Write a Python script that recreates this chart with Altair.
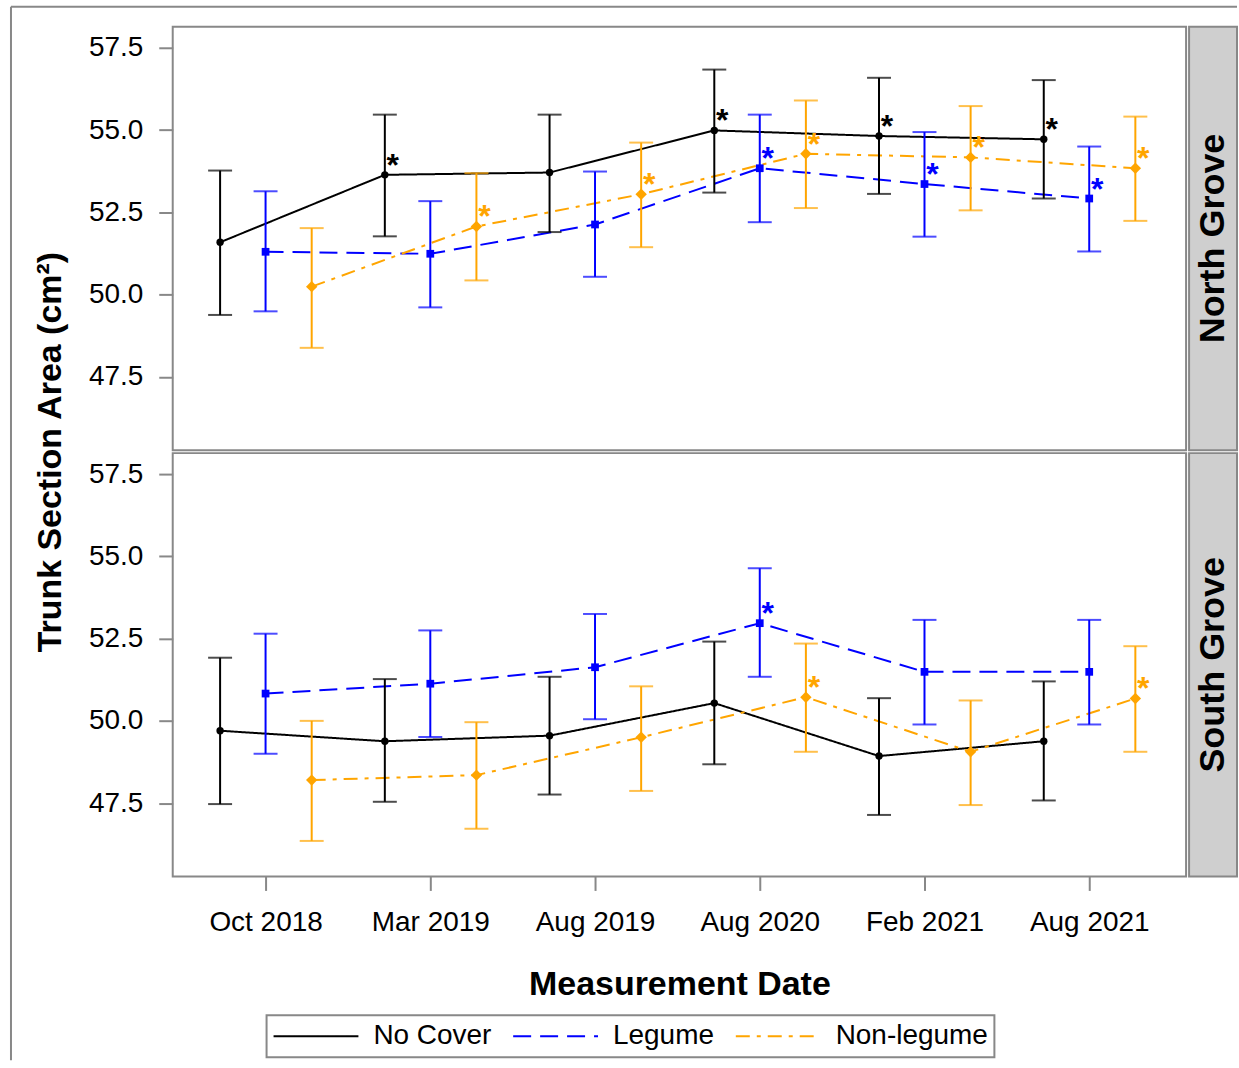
import altair as alt
import pandas as pd

dates = ["Oct 2018", "Mar 2019", "Aug 2019", "Aug 2020", "Feb 2021", "Aug 2021"]
series = ["No Cover", "Legume", "Non-legume"]
colors = ["#000000", "#0000FF", "#FFA500"]
dashes = [[1, 0], [18, 9], [14, 7, 4, 7]]
shapes = ["circle", "square", "diamond"]
marker_sizes = [55, 60, 130]
dodge = [-0.276, 0.0, 0.28]
groves = ["North Grove", "South Grove"]

# North Grove
north_nc_mean = [51.59, 53.64, 53.71, 54.99, 54.82, 54.72]
north_nc_lo = [49.38, 51.77, 51.90, 53.10, 53.06, 52.92]
north_nc_hi = [53.77, 55.47, 55.47, 56.84, 56.59, 56.52]
north_lg_mean = [51.30, 51.24, 52.13, 53.84, 53.36, 52.92]
north_lg_lo = [49.49, 49.61, 50.54, 52.20, 51.76, 51.31]
north_lg_hi = [53.14, 52.84, 53.74, 55.47, 54.94, 54.50]
north_nl_mean = [50.24, 52.07, 53.05, 54.28, 54.17, 53.84]
north_nl_lo = [48.38, 50.43, 51.44, 52.63, 52.56, 52.24]
north_nl_hi = [52.02, 53.69, 54.62, 55.90, 55.73, 55.41]
north_nc_sig = [0, 1, 0, 1, 1, 1]
north_lg_sig = [0, 0, 0, 1, 1, 1]
north_nl_sig = [0, 1, 1, 1, 1, 1]

# South Grove
south_nc_mean = [49.70, 49.38, 49.55, 50.54, 48.93, 49.38]
south_nc_lo = [47.47, 47.54, 47.76, 48.68, 47.14, 47.58]
south_nc_hi = [51.92, 51.27, 51.34, 52.41, 50.69, 51.20]
south_lg_mean = [50.83, 51.13, 51.63, 52.97, 51.49, 51.49]
south_lg_lo = [49.00, 49.51, 50.05, 51.34, 49.89, 49.89]
south_lg_hi = [52.65, 52.75, 53.25, 54.64, 53.07, 53.07]
south_nl_mean = [48.20, 48.35, 49.50, 50.72, 49.06, 50.68]
south_nl_lo = [46.35, 46.72, 47.87, 49.06, 47.44, 49.06]
south_nl_hi = [50.00, 49.96, 51.05, 52.35, 50.62, 52.27]
south_nc_sig = [0, 0, 0, 0, 0, 0]
south_lg_sig = [0, 0, 0, 1, 0, 0]
south_nl_sig = [0, 0, 0, 1, 0, 1]

y_ticks = [47.5, 50.0, 52.5, 55.0, 57.5]
Y_DOMAIN = [45.27, 58.14]
X_DOMAIN = [-0.5636, 5.588]

W, H = 1015, 424
FONT = "Liberation Sans"


def build_df(grove, means, los, his, sigs):
    rows = []
    for s_i, s in enumerate(series):
        for d_i, d in enumerate(dates):
            rows.append({
                "grove": grove, "series": s, "treat": s, "date": d,
                "xpos": d_i + dodge[s_i],
                "mean": means[s_i][d_i], "lo": los[s_i][d_i], "hi": his[s_i][d_i],
                "sig": sigs[s_i][d_i],
            })
    return pd.DataFrame(rows)


north = build_df("North Grove",
                 [north_nc_mean, north_lg_mean, north_nl_mean],
                 [north_nc_lo, north_lg_lo, north_nl_lo],
                 [north_nc_hi, north_lg_hi, north_nl_hi],
                 [north_nc_sig, north_lg_sig, north_nl_sig])
south = build_df("South Grove",
                 [south_nc_mean, south_lg_mean, south_nl_mean],
                 [south_nc_lo, south_lg_lo, south_nl_lo],
                 [south_nc_hi, south_lg_hi, south_nl_hi],
                 [south_nc_sig, south_lg_sig, south_nl_sig])

label_expr = "[" + ",".join("'%s'" % d for d in dates) + "][datum.value]"

# legend scales (explicit domain)
color_scale = alt.Scale(domain=series, range=colors)
dash_scale = alt.Scale(domain=series, range=dashes)
# marker scales (data-derived domain, ordered by `series` via sort)
mcolor_scale = alt.Scale(range=colors)
shape_scale = alt.Scale(range=shapes)
size_scale = alt.Scale(type="ordinal", range=marker_sizes)
y_scale = alt.Scale(domain=Y_DOMAIN, nice=False, zero=False)
x_scale = alt.Scale(domain=X_DOMAIN, nice=False, zero=False)

legend = alt.Legend(title=None, symbolType="stroke")


def panel(df, grove, top):
    if top:
        x_axis = None
        y_axis = alt.Axis(values=y_ticks, format=".1f", title="Trunk Section Area (cm²)",
                          titleX=-122, titleY=425.5, titleAngle=270, titleAlign="center",
                          titleBaseline="middle")
    else:
        x_axis = alt.Axis(values=list(range(len(dates))), labelExpr=label_expr,
                          title="Measurement Date", labelAngle=0)
        y_axis = alt.Axis(values=y_ticks, format=".1f", title=None)

    base = alt.Chart(df)
    x = alt.X("xpos:Q", scale=x_scale, axis=x_axis)
    stroke = alt.Stroke("treat:N", scale=mcolor_scale, sort=series, legend=None)
    fill = alt.Fill("treat:N", scale=mcolor_scale, sort=series, legend=None)

    rules = base.mark_rule(strokeWidth=2).encode(
        x=x, y=alt.Y("lo:Q", scale=y_scale, axis=y_axis), y2="hi:Q", stroke=stroke)
    cap_lo = base.mark_tick(orient="horizontal", size=24, thickness=2).encode(
        x=x, y=alt.Y("lo:Q", scale=y_scale), fill=fill)
    cap_hi = base.mark_tick(orient="horizontal", size=24, thickness=2).encode(
        x=x, y=alt.Y("hi:Q", scale=y_scale), fill=fill)
    lines = base.mark_line(strokeWidth=2).encode(
        x=x, y=alt.Y("mean:Q", scale=y_scale),
        color=alt.Color("series:N", scale=color_scale, sort=series, legend=legend),
        strokeDash=alt.StrokeDash("series:N", scale=dash_scale, sort=series, legend=legend),
        order="xpos:Q")
    points = base.mark_point(filled=True, opacity=1).encode(
        x=x, y=alt.Y("mean:Q", scale=y_scale), fill=fill,
        shape=alt.Shape("treat:N", scale=shape_scale, sort=series, legend=None),
        size=alt.Size("treat:N", scale=size_scale, sort=series, legend=None))
    stars = base.transform_filter("datum.sig == 1").mark_text(
        text="*", fontSize=32, fontWeight="bold", align="center", baseline="alphabetic",
        dx=8, dy=1).encode(x=x, y=alt.Y("mean:Q", scale=y_scale), fill=fill)

    strip_df = pd.DataFrame({"label": [grove]})
    strip = alt.Chart(strip_df).mark_rect(fill="#CFCFCF", stroke="#888888", strokeWidth=2).encode(
        x=alt.value(W + 3), x2=alt.value(W + 51), y=alt.value(0), y2=alt.value(H))
    strip_text = alt.Chart(strip_df).mark_text(
        angle=270, fontSize=36, fontWeight="bold", font=FONT, color="black",
        align="center", baseline="middle").encode(
        x=alt.value(W + 27), y=alt.value(H / 2), text="label:N")

    layers = [strip, strip_text, lines, rules, cap_lo, cap_hi, points, stars]
    if top:
        frame_df = pd.DataFrame({"k": [0]})
        frame_v = alt.Chart(frame_df).mark_rule(color="#888888", strokeWidth=2).encode(
            x=alt.value(-162), y=alt.value(-20), y2=alt.value(1035))
        frame_h = alt.Chart(frame_df).mark_rule(color="#888888", strokeWidth=2).encode(
            x=alt.value(-162), x2=alt.value(W + 51), y=alt.value(-20))
        layers = [frame_v, frame_h] + layers
    return alt.layer(*layers).properties(width=W, height=H)


top = panel(north, "North Grove", True)
bottom = panel(south, "South Grove", False)

chart = alt.vconcat(top, bottom, spacing=3, bounds="flush").configure(
    font=FONT, padding={"left": 9, "top": 4, "right": 0, "bottom": 0}
).configure_view(
    stroke="#888888", strokeWidth=2, fill="white"
).configure_axis(
    grid=False, domain=False, tickColor="#888888", tickWidth=2, tickSize=14,
    labelFontSize=28, labelColor="black", labelFont=FONT, labelPadding=16,
    titleFontSize=34, titleFontWeight="bold", titleColor="black", titleFont=FONT,
).configure_axisX(
    labelPadding=18, titlePadding=31
).configure_legend(
    orient="none", legendX=94, legendY=990, direction="horizontal",
    strokeColor="#888888", strokeWidth=2, padding=6, fillColor="white",
    labelFontSize=28, labelFont=FONT, labelColor="black", labelOffset=14,
    symbolType="stroke", symbolSize=7225, symbolStrokeWidth=2, clipHeight=30,
    columnPadding=20,
)

chart.save("out.html", embed_options={"renderer": "svg", "actions": False})
